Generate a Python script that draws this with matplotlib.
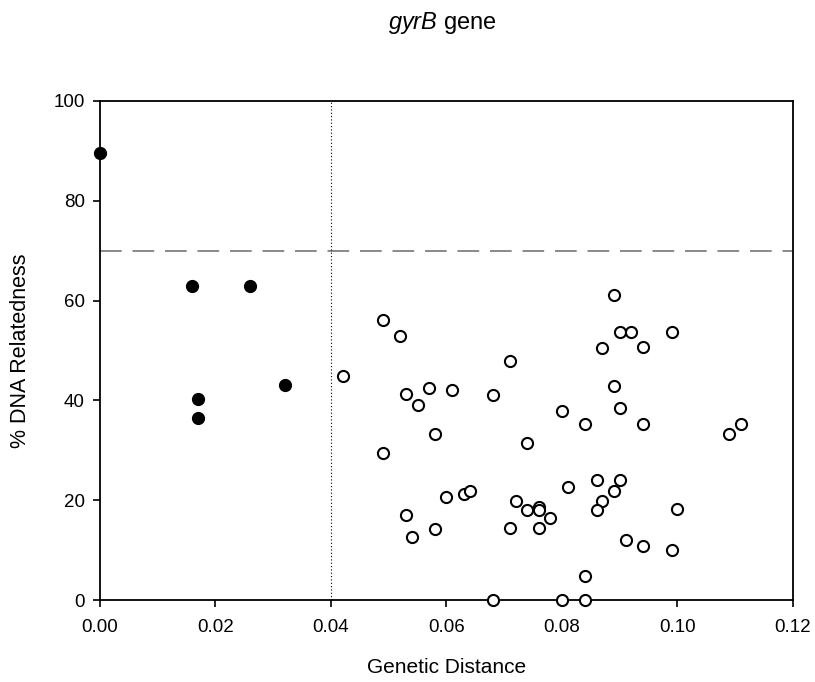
import matplotlib.pyplot as plt
import numpy as np

plt.rcParams['font.family'] = ['Liberation Sans', 'DejaVu Sans']
plt.rcParams['mathtext.fontset'] = 'custom'
plt.rcParams['mathtext.it'] = 'Liberation Sans:italic'
plt.rcParams['mathtext.rm'] = 'Liberation Sans'

# filled points (same species)
dist_in = [0.000, 0.016, 0.026, 0.017, 0.017, 0.032]
rel_in = [89.5, 63.0, 63.0, 40.3, 36.5, 43.0]

# open points (different species)
dist_out = [0.042, 0.049, 0.052, 0.053, 0.055, 0.057, 0.061, 0.058, 0.049,
            0.068, 0.071, 0.080, 0.084, 0.089, 0.090, 0.092, 0.099, 0.087,
            0.094, 0.089, 0.090, 0.094, 0.109, 0.111, 0.074,
            0.053, 0.054, 0.058, 0.060, 0.063, 0.064, 0.072, 0.071, 0.074,
            0.076, 0.076, 0.076, 0.078, 0.081, 0.086, 0.090, 0.089, 0.087,
            0.086, 0.100, 0.091, 0.094, 0.099, 0.084, 0.068, 0.080, 0.084]
rel_out = [44.9, 56.2, 53.0, 41.3, 39.0, 42.4, 42.0, 33.2, 29.4,
           41.1, 47.8, 37.9, 35.3, 61.2, 53.8, 53.8, 53.8, 50.4,
           50.6, 42.9, 38.5, 35.3, 33.3, 35.3, 31.5,
           17.0, 12.6, 14.2, 20.7, 21.3, 21.9, 19.9, 14.4, 18.0,
           18.6, 18.0, 14.4, 16.4, 22.7, 24.0, 24.0, 21.9, 19.9,
           18.0, 18.3, 12.0, 10.9, 10.0, 4.9, 0.0, 0.0, 0.0]

fig = plt.figure(figsize=(8.15, 6.82), dpi=100)
ax = fig.add_axes([0.1227, 0.1202, 0.8503, 0.7318])

ax.axhline(70, color='#808080', lw=1.3, dashes=(12, 6), zorder=1)
ax.axvline(0.04, color='black', lw=0.8, ls=(0, (1, 2)), zorder=1)

ax.plot(dist_out, rel_out, 'o', ms=8, mfc='white', mec='black', mew=1.5,
        clip_on=False, zorder=3)
ax.plot(dist_in, rel_in, 'o', ms=8.5, mfc='black', mec='black',
        clip_on=False, zorder=3)

ax.set_xlim(0, 0.12)
ax.set_ylim(0, 100)
ax.set_xticks(np.arange(0, 0.121, 0.02))
ax.set_xticklabels(['0.00', '0.02', '0.04', '0.06', '0.08', '0.10', '0.12'])
ax.set_yticks(np.arange(0, 101, 20))
ax.tick_params(direction='out', length=5, width=1.2, labelsize=13.5)
ax.tick_params(axis='x', pad=9)
ax.tick_params(axis='y', pad=6)
for s in ax.spines.values():
    s.set_linewidth(1.3)

ax.set_xlabel('Genetic Distance', fontsize=15, va='center')
ax.set_ylabel('% DNA Relatedness', fontsize=15.5, va='center')
ax.xaxis.set_label_coords(0.5, -0.136)
ax.yaxis.set_label_coords(-0.1154, 0.5)
fig.text(0.543, 0.966, r'$\it{gyrB}$ gene', fontsize=17, ha='center', va='center')

fig.savefig('out.png', dpi=100)
